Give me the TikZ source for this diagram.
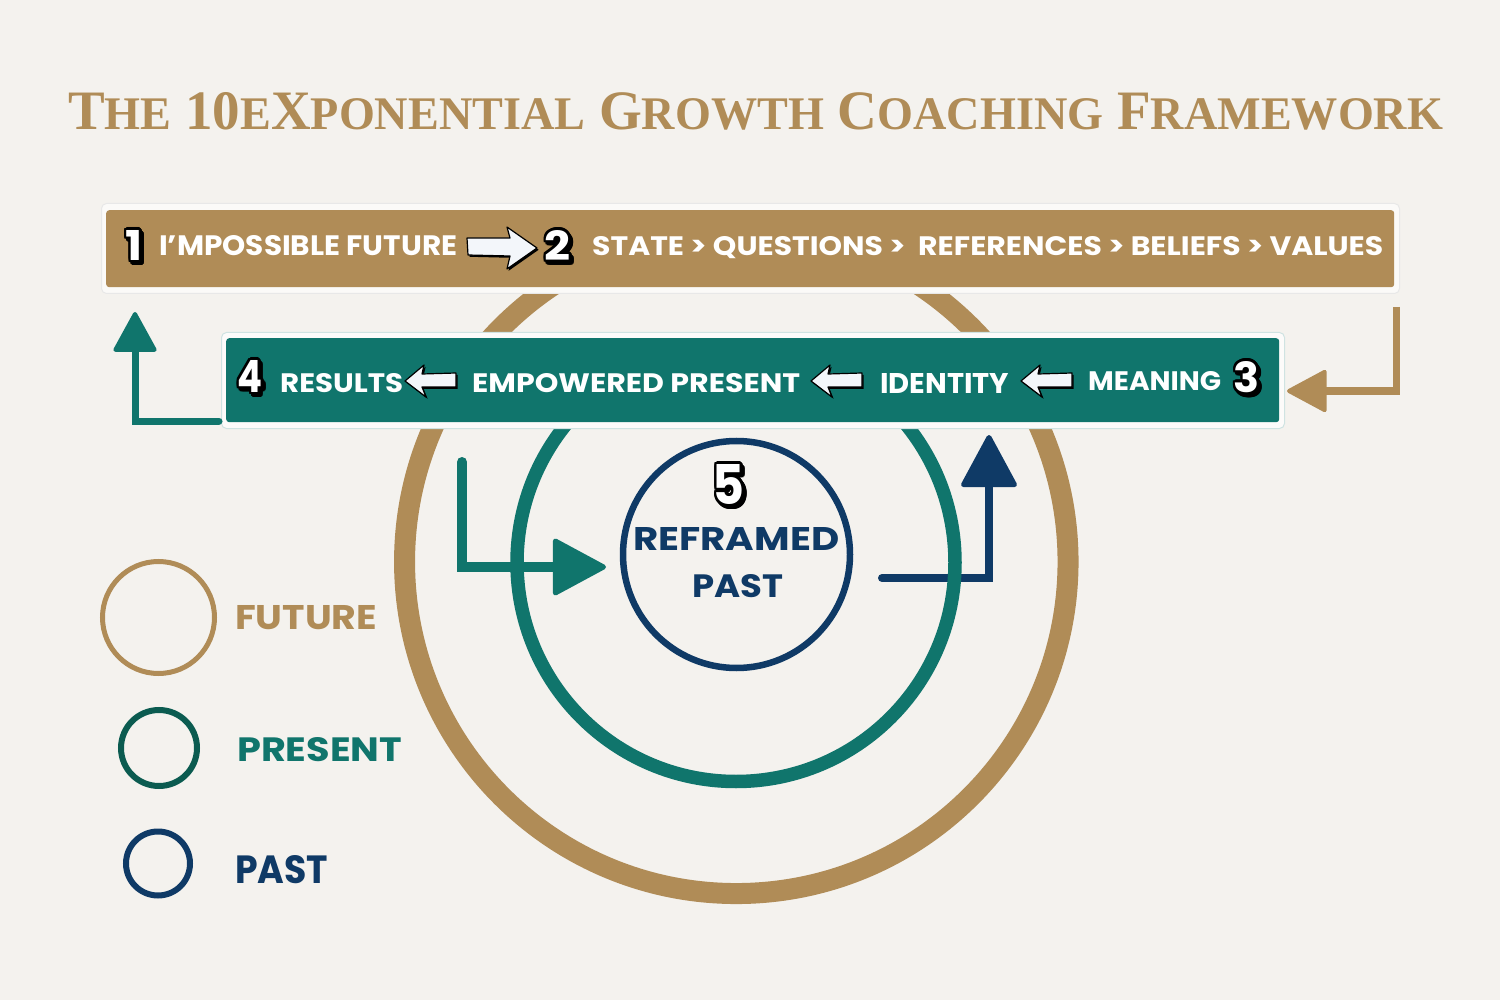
\documentclass[tikz,border=0pt]{standalone}
\usepackage{fontspec}
\usepackage{graphicx}
\usetikzlibrary{arrows.meta,calc}
\newfontfamily\mont{Poppins}
\newfontfamily\tserif{Liberation Serif}
\definecolor{bg}{HTML}{F4F2EE}
\definecolor{gold}{HTML}{B08C57}
\definecolor{myteal}{HTML}{10756C}
\definecolor{dteal}{HTML}{0B5B50}
\definecolor{mynavy}{HTML}{0F3A66}
\definecolor{awhite}{HTML}{F3F6FA}
\newcommand\fittext[3]{\resizebox{#1pt}{#2pt}{#3}}
\newcommand\smc[1]{{\fontsize{42}{50}\selectfont #1}}
\tikzset{
  txt/.style={inner sep=0pt, anchor=base west, font=\mont\bfseries},
  bubtxt/.style={inner sep=0pt, anchor=base west, font=\mont\bfseries},
  ring/.style={circle, inner sep=0pt, fill=none},
  barout/.style={anchor=north west, inner sep=0pt, rounded corners=5pt, line width=1pt},
  barin/.style={anchor=north west, inner sep=0pt, rounded corners=3pt},
  larr/.pic={
    \begin{scope}[shift={(1.6,1.8)}]
      \fill[black] (0,0)--(19,-16)--(17,-7)--(51,-8)--(51,6)--(17,6)--(21,16)--cycle;
    \end{scope}
    \filldraw[fill=awhite, draw=black, line width=1.2pt, line join=round] (0,0)--(19,-16)--(17,-7)--(51,-8)--(51,6)--(17,6)--(21,16)--cycle;
  },
  rarr/.pic={
    \begin{scope}[shift={(1.6,1.8)}]
      \fill[black] (0,0)--(-30,-21)--(-27,-10)--(-70,-10)--(-69,7)--(-27,8)--(-30,21)--cycle;
    \end{scope}
    \filldraw[fill=awhite, draw=black, line width=1.2pt, line join=round] (0,0)--(-30,-21)--(-27,-10)--(-70,-10)--(-69,7)--(-27,8)--(-30,21)--cycle;
  }
}
\newcommand\bub[6]{%
  \foreach \a in {0,20,...,340}{%
    \node[bubtxt,text=black] (#1s\a) at ($(#2,#3)+(2.2,2.8)+(\a:2.6)$) {\resizebox{#4pt}{#5pt}{#6}};
  }%
  \foreach \a in {0,20,...,340}{%
    \node[bubtxt,text=black] (#1o\a) at ($(#2,#3)+(\a:2.6)$) {\resizebox{#4pt}{#5pt}{#6}};
  }%
  \node[bubtxt,text=white] (#1) at (#2,#3) {\resizebox{#4pt}{#5pt}{#6}};
}
\begin{document}
\begin{tikzpicture}[x=1pt,y=-1pt]
\fill[bg] (0,0) rectangle (1500,1000);
\useasboundingbox (0,0) rectangle (1500,1000);

% title
\node[inner sep=0pt, anchor=base west, text=gold] (title) at (68,130)
  {\fittext{1375}{37}{\tserif\bfseries\fontsize{50}{60}\selectfont T\smc{HE} 10\smc{E}X\smc{PONENTIAL} G\smc{ROWTH} C\smc{OACHING} F\smc{RAMEWORK}}};

% big rings
\node[ring, draw=gold, line width=21pt, minimum size=663.5pt] (future) at (736.3,561.8) {};

% inner connectors
\coordinate (ti1) at (462,462);
\coordinate (ti2) at (606,567);
\draw[myteal, line width=10pt, line cap=round, -{Triangle[length=56pt,width=59pt,round,line width=5pt]}] (ti1) |- (ti2);
\coordinate (na1) at (882,578);
\coordinate (na2) at (989,435);
\draw[mynavy, line width=8pt, line cap=round, -{Triangle[length=55pt,width=58pt,round,line width=5pt]}] (na1) -| (na2);

\node[ring, draw=myteal, line width=13.5pt, minimum size=438pt] (present) at (736,562.5) {};
\node[ring, draw=mynavy, line width=6.5pt, minimum size=227pt] (past) at (736.5,554.5) {};

% bars
\node[barout, fill=white!60!bg, draw=black!9, minimum width=1298pt, minimum height=90pt] (bar1out) at (101,203) {};
\node[barin, fill=gold, minimum width=1288pt, minimum height=77pt] (bar1) at (106,210) {};
\node[barout, fill=white!70!bg, draw=myteal!20, minimum width=1063pt, minimum height=96pt] (bar2out) at (221,332) {};
\node[barin, fill=myteal, minimum width=1053pt, minimum height=84pt] (bar2) at (226,338) {};

% outer connectors
\coordinate (g1) at (1396,307);
\coordinate (g2) at (1287,391);
\draw[gold, line width=7pt, -{Triangle[length=42pt,width=44pt,round,line width=4pt]}] (g1) |- (g2);
\coordinate (t1) at (219,421);
\coordinate (t2) at (135,312);
\draw[myteal, line width=7pt, line cap=round, -{Triangle[length=42pt,width=45pt,round,line width=4pt]}] (t1) -| (t2);

% bar 1 content
\bub{n1}{125.5}{260.5}{17}{30}{1}
\node[txt, text=white] (impossible) at (159,256) {\fittext{298}{20}{I’MPOSSIBLE FUTURE}};
\pic at (537,248) {rarr};
\bub{n2}{544.5}{260.5}{26}{30}{2}
\node[txt, text=white] (chain) at (592,256) {\fittext{791}{19}{STATE > QUESTIONS >\ \ REFERENCES > BELIEFS > VALUES}};

% bar 2 content
\bub{n4}{237.5}{392.5}{25}{32}{4}
\node[txt, text=white] (results) at (280,392) {\fittext{123}{19}{RESULTS}};
\pic at (405,381) {larr};
\node[txt, text=white] (empowered) at (472,392) {\fittext{328}{19}{EMPOWERED PRESENT}};
\pic at (811,381) {larr};
\node[txt, text=white] (identity) at (880,393) {\fittext{129}{20}{IDENTITY}};
\pic at (1021,381) {larr};
\node[txt, text=white] (meaning) at (1088,391) {\fittext{133}{19}{MEANING}};
\bub{n3}{1233.5}{392.5}{26}{31}{3}

% centre
\bub{n5}{712.5}{504.5}{32}{40}{5}
\node[txt, text=mynavy] (reframed) at (633,550) {\fittext{206}{23}{REFRAMED}};
\node[txt, text=mynavy] (pastc) at (692,597) {\fittext{91}{23}{PAST}};

% legend
\node[ring, draw=gold, line width=5pt, minimum size=112pt] (lfut) at (158.5,617.5) {};
\node[txt, text=gold] (lfuttxt) at (235,629) {\fittext{142}{24}{FUTURE}};
\node[ring, draw=dteal, line width=6pt, minimum size=76pt] (lpre) at (159,748) {};
\node[txt, text=myteal] (lpretxt) at (237,761) {\fittext{165}{24}{PRESENT}};
\node[ring, draw=mynavy, line width=6pt, minimum size=64pt] (lpas) at (158,863.5) {};
\node[txt, text=mynavy] (lpastxt) at (235,883) {\fittext{93}{28}{PAST}};
\end{tikzpicture}
\end{document}
